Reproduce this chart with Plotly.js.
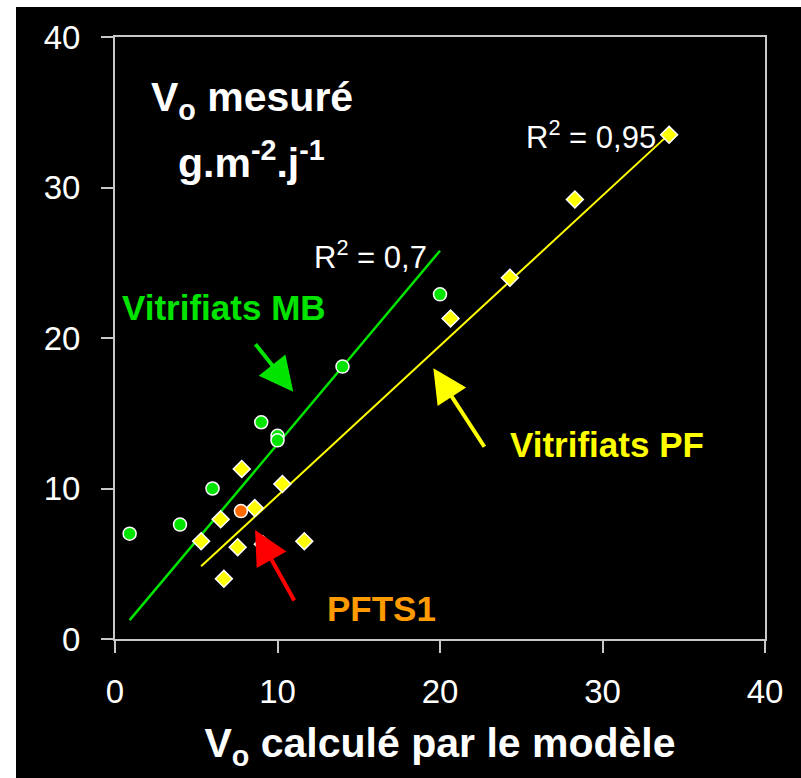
<!DOCTYPE html>
<html><head><meta charset="utf-8">
<script src="https://cdn.plot.ly/plotly-3.0.1.min.js"></script>
<style>
html,body{margin:0;padding:0;background:#ffffff;}
#chart{position:absolute;left:16px;top:7px;width:785px;height:771px;}
</style></head>
<body><div id="chart"></div>
<script>
// Vitrifiats MB (green circles)
const mbX = [0.9, 4.0, 6.0, 9.0, 10.0, 10.0, 14.0, 20.0];
const mbY = [7.0, 7.6, 10.0, 14.4, 13.5, 13.2, 18.1, 22.9];
// Vitrifiats PF (yellow diamonds)
const pfX = [5.3, 6.5, 6.7, 7.55, 7.8, 8.6, 9.1, 10.3, 11.65, 20.65, 24.3, 28.3, 34.1];
const pfY = [6.5, 7.95, 4.0, 6.1, 11.3, 8.7, 6.3, 10.3, 6.5, 21.3, 24.0, 29.2, 33.5];
// PFTS1 (orange circle)
const ftsX = [7.75];
const ftsY = [8.5];
// trend lines (slope, intercept); drawn over each series' x range
const mbFit = [1.285, 0.1];
const pfFit = [0.997, -0.45];
const mbR2 = "0,7";
const pfR2 = "0,95";
const xTicks = [0, 10, 20, 30, 40];
const yTicks = [0, 10, 20, 30, 40];

const green = "#00e400", yellow = "#ffff00", orange = "#ff6a00";
function fitLine(xs, fit){
  const lo = Math.min(...xs), hi = Math.max(...xs);
  return {x:[lo,hi], y:[fit[0]*lo+fit[1], fit[0]*hi+fit[1]]};
}
const mbL = fitLine(mbX, mbFit), pfL = fitLine(pfX, pfFit);

const traces = [
  {x: mbL.x, y: mbL.y, mode:"lines", line:{color:green, width:2.5}, hoverinfo:"skip", name:"MB fit"},
  {x: pfL.x, y: pfL.y, mode:"lines", line:{color:yellow, width:2}, hoverinfo:"skip", name:"PF fit"},
  {x: mbX, y: mbY, mode:"markers", name:"Vitrifiats MB",
   marker:{symbol:"circle", size:13, color:green, line:{color:"#ffffff", width:1.5}}},
  {x: pfX, y: pfY, mode:"markers", name:"Vitrifiats PF",
   marker:{symbol:"diamond", size:13, color:yellow, line:{color:"#ffffff", width:1.5}}},
  {x: ftsX, y: ftsY, mode:"markers", name:"PFTS1",
   marker:{symbol:"circle", size:13, color:orange, line:{color:"#ffffff", width:1.5}}}
];

const F = "Liberation Sans, Arial, sans-serif";
const layout = {
  width:785, height:771,
  paper_bgcolor:"#000000", plot_bgcolor:"#000000",
  margin:{l:99, r:36, t:30, b:139},
  showlegend:false,
  xaxis:{range:[0,40], tickvals:xTicks, ticktext:xTicks.map(String), showgrid:false, zeroline:false,
    showline:true, linecolor:"#c8c8c8", linewidth:2, mirror:true,
    ticks:"outside", ticklen:12, tickwidth:2, tickcolor:"#c8c8c8",
    tickfont:{family:F, size:33, color:"#ffffff"}, ticklabelstandoff:10,
    title:{text:"<b>V<sub>o</sub> calculé par le modèle</b>", font:{family:F, size:41, color:"#ffffff"}, standoff:20}},
  yaxis:{range:[0,40], tickvals:yTicks, ticktext:yTicks.map(String), showgrid:false, zeroline:false,
    showline:true, linecolor:"#c8c8c8", linewidth:2, mirror:true,
    ticks:"outside", ticklen:12, tickwidth:2, tickcolor:"#c8c8c8",
    tickfont:{family:F, size:33, color:"#ffffff"}, ticklabelstandoff:14},
  annotations:[
    {x:8.43, y:35.8, xref:"x", yref:"y", text:"<b>V<sub>o</sub> mesuré</b>", showarrow:false,
     font:{family:F, size:41, color:"#ffffff"}},
    {x:8.43, y:31.8, xref:"x", yref:"y", text:"<b>g.m<sup>-2</sup>.j<sup>-1</sup></b>", showarrow:false,
     font:{family:F, size:41, color:"#ffffff"}},
    {x:15.75, y:25.5, xref:"x", yref:"y", text:"R<sup>2</sup> = "+mbR2, showarrow:false,
     font:{family:F, size:31, color:"#ffffff"}},
    {x:29.3, y:33.5, xref:"x", yref:"y", text:"R<sup>2</sup> = "+pfR2, showarrow:false,
     font:{family:F, size:31, color:"#ffffff"}},
    {x:6.7, y:22.0, xref:"x", yref:"y", text:"<b>Vitrifiats MB</b>", showarrow:false,
     font:{family:F, size:35, color:green}},
    {x:30.3, y:12.9, xref:"x", yref:"y", text:"<b>Vitrifiats PF</b>", showarrow:false,
     font:{family:F, size:35, color:yellow}},
    {x:16.4, y:2.0, xref:"x", yref:"y", text:"<b>PFTS1</b>", showarrow:false,
     font:{family:F, size:35, color:"#ff9a00"}},
    {x:10.97, y:16.43, xref:"x", yref:"y", text:"", showarrow:true, ax:-39, ay:-49,
     arrowhead:2, arrowsize:1.7, arrowwidth:4, arrowcolor:green},
    {x:19.59, y:17.99, xref:"x", yref:"y", text:"", showarrow:true, ax:52, ay:80,
     arrowhead:2, arrowsize:1.7, arrowwidth:4, arrowcolor:yellow},
    {x:8.62, y:7.24, xref:"x", yref:"y", text:"", showarrow:true, ax:40, ay:72,
     arrowhead:2, arrowsize:1.7, arrowwidth:4, arrowcolor:"#ff0000"}
  ]
};
Plotly.newPlot("chart", traces, layout, {displayModeBar:false, staticPlot:true});
</script></body></html>
